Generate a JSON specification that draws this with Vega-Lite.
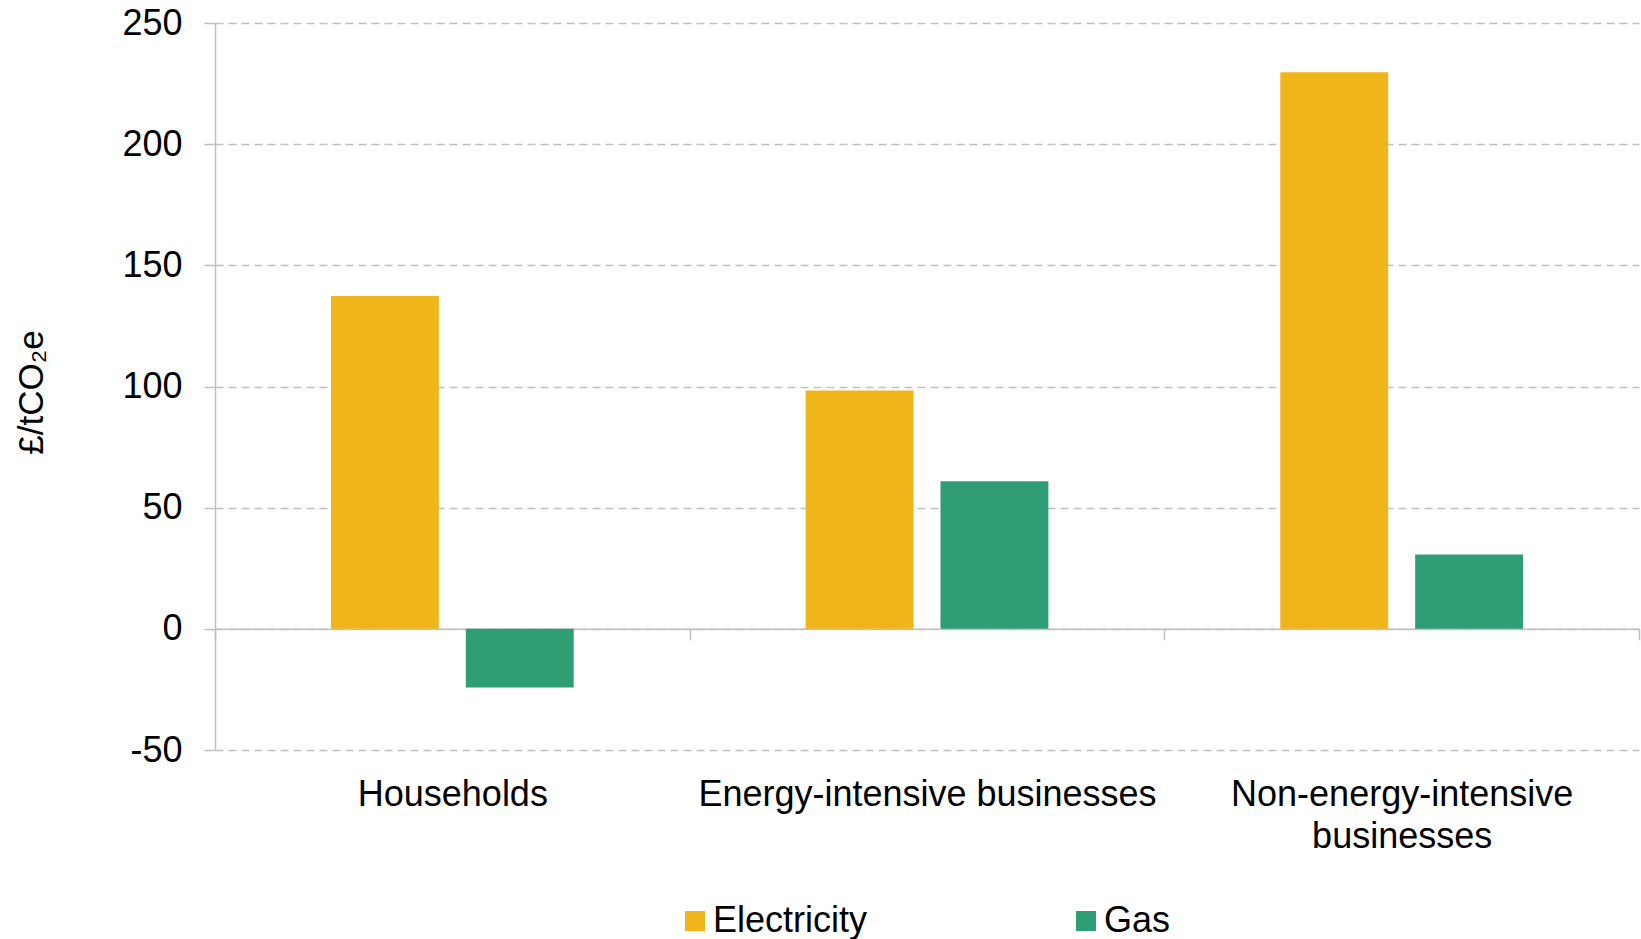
{
  "$schema": "https://vega.github.io/schema/vega-lite/v6.json",
  "autosize": "none",
  "width": 1424,
  "height": 727,
  "padding": {"left": 215, "top": 23, "right": 2, "bottom": 189},
  "background": "white",
  "data": {
    "values": [
      {"sector": "Households", "fuel": "Electricity", "value": 137.3},
      {"sector": "Households", "fuel": "Gas", "value": -24.2},
      {"sector": "Energy-intensive businesses", "fuel": "Electricity", "value": 98.4},
      {"sector": "Energy-intensive businesses", "fuel": "Gas", "value": 60.9},
      {"sector": "Non-energy-intensive businesses", "fuel": "Electricity", "value": 229.7},
      {"sector": "Non-energy-intensive businesses", "fuel": "Gas", "value": 30.7}
    ]
  },
  "config": {
    "font": "Liberation Sans",
    "view": {"stroke": null}
  },
  "mark": {"type": "bar"},
  "encoding": {
    "x": {
      "field": "sector",
      "type": "nominal",
      "sort": null,
      "scale": {"paddingInner": 0, "paddingOuter": 0},
      "axis": {
        "title": null,
        "offset": -121.17,
        "domainColor": "#bfbfbf",
        "domainWidth": 1.5,
        "tickColor": "#bfbfbf",
        "tickWidth": 1.5,
        "tickSize": 11,
        "tickBand": "extent",
        "labelAngle": 0,
        "labelFontSize": 36,
        "labelColor": "#000000",
        "labelPadding": 138,
        "labelLineHeight": 42,
        "labelLimit": 600,
        "labelExpr": "datum.label == 'Non-energy-intensive businesses' ? ['Non-energy-intensive', 'businesses'] : datum.label",
        "grid": false
      }
    },
    "xOffset": {
      "field": "fuel",
      "type": "nominal",
      "scale": {"paddingInner": 0.2, "paddingOuter": 0.86}
    },
    "y": {
      "field": "value",
      "type": "quantitative",
      "scale": {"domain": [-50, 250], "nice": false, "zero": false},
      "axis": {
        "values": [-50, 0, 50, 100, 150, 200, 250],
        "labelExpr": "replace(datum.label, '\u2212', '-')",
        "title": "£/tCO₂e",
        "titleFontSize": 35,
        "titleFontWeight": "normal",
        "titleColor": "#000000",
        "titleAngle": -90,
        "titleAlign": "center",
        "titleBaseline": "middle",
        "titleX": -184,
        "titleY": 369,
        "domainColor": "#bfbfbf",
        "domainWidth": 1.5,
        "tickColor": "#bfbfbf",
        "tickWidth": 1.5,
        "tickSize": 11,
        "labelFontSize": 36,
        "labelColor": "#000000",
        "labelPadding": 22,
        "grid": true,
        "gridColor": "#c0c0c0",
        "gridWidth": 1.5,
        "gridDash": [8, 5]
      }
    },
    "color": {
      "field": "fuel",
      "type": "nominal",
      "scale": {"domain": ["Electricity", "Gas"], "range": ["#F0B51A", "#2F9E74"]},
      "legend": {
        "title": null,
        "orient": "none",
        "direction": "horizontal",
        "columns": 2,
        "legendX": 462,
        "legendY": 880,
        "symbolType": "square",
        "symbolSize": 400,
        "symbolStrokeWidth": 0,
        "symbolOpacity": 1,
        "labelFontSize": 36,
        "labelColor": "#000000",
        "labelOffset": 0,
        "columnPadding": 200,
        "labelLimit": 400
      }
    }
  }
}
